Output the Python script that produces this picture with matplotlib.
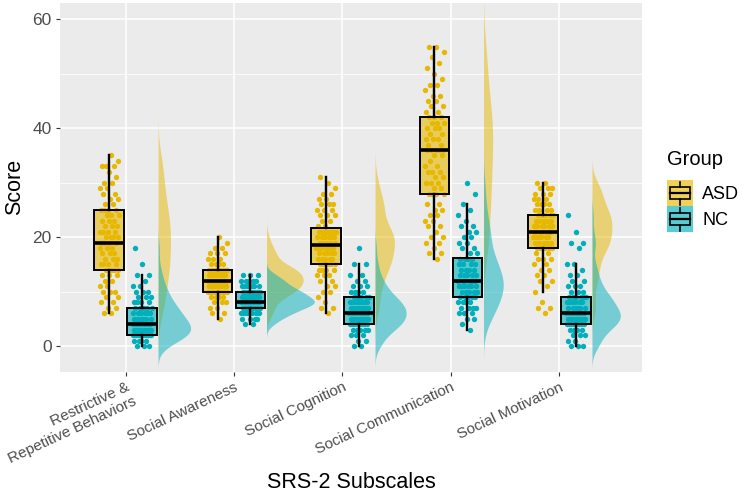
import numpy as np
import matplotlib.pyplot as plt
from matplotlib.colors import to_rgba
from matplotlib.patches import Rectangle, Patch
from matplotlib.lines import Line2D
from matplotlib.legend_handler import HandlerBase

plt.rcParams['font.family'] = ['Liberation Sans', 'DejaVu Sans']

subscales = ["Restrictive &\nRepetitive Behaviors", "Social Awareness", "Social Cognition",
             "Social Communication", "Social Motivation"]
groups = ["ASD", "NC"]
colors = {"ASD": "#E7B800", "NC": "#00AFBB"}

# score values and how many participants sit on each dot row
rrb_asd_scores = list(range(6, 36))
rrb_asd_counts = [2, 2, 2, 2, 3, 2, 2, 3, 4, 4, 3, 3, 3, 4, 4, 4, 3, 3, 3, 4, 2, 2, 2, 2, 2, 1, 1, 3, 1, 1]
rrb_nc_scores = list(range(0, 14)) + [15, 18]
rrb_nc_counts = [3, 4, 12, 8, 10, 7, 6, 6, 4, 3, 3, 2, 1, 2, 1, 1]

sa_asd_scores = list(range(5, 21))
sa_asd_counts = [1, 2, 2, 3, 4, 10, 9, 12, 9, 11, 4, 3, 3, 2, 1, 1]
sa_nc_scores = list(range(4, 14))
sa_nc_counts = [2, 4, 7, 10, 15, 11, 10, 6, 5, 3]

sc_asd_scores = list(range(6, 32))
sc_asd_counts = [1, 2, 1, 1, 2, 2, 2, 3, 4, 5, 5, 5, 6, 5, 6, 8, 2, 2, 3, 3, 3, 2, 2, 1, 1, 1]
sc_nc_scores = list(range(0, 14)) + [15, 18]
sc_nc_counts = [2, 2, 3, 5, 8, 8, 9, 8, 8, 5, 4, 3, 2, 2, 2, 1]

scom_asd_scores = list(range(16, 27)) + list(range(28, 56))
scom_asd_counts = [1, 2, 1, 2, 2, 1, 2, 2, 2, 2, 2,
                   4, 2, 3, 2, 3, 2, 1, 2, 5, 2, 3, 2, 3, 3, 3, 2, 2, 2, 2, 1, 2, 1, 1, 1, 1, 1, 1, 2]
scom_nc_scores = list(range(3, 27)) + [28, 30]
scom_nc_counts = [1, 1, 2, 3, 4, 4, 5, 5, 6, 6, 5, 4, 4, 4, 2, 2, 2, 2, 2, 2, 1, 1, 1, 1, 1, 1]

sm_asd_scores = [6, 7, 8] + list(range(10, 31))
sm_asd_counts = [1, 2, 1, 1, 1, 2, 2, 2, 2, 3, 2, 6, 5, 6, 5, 6, 6, 6, 4, 4, 3, 3, 3, 2]
sm_nc_scores = list(range(0, 16)) + [18, 19, 21, 24]
sm_nc_counts = [3, 2, 3, 4, 8, 8, 9, 6, 6, 6, 3, 3, 2, 2, 1, 2, 1, 2, 1, 1]

data = [
    {"ASD": np.repeat(rrb_asd_scores, rrb_asd_counts), "NC": np.repeat(rrb_nc_scores, rrb_nc_counts)},
    {"ASD": np.repeat(sa_asd_scores, sa_asd_counts), "NC": np.repeat(sa_nc_scores, sa_nc_counts)},
    {"ASD": np.repeat(sc_asd_scores, sc_asd_counts), "NC": np.repeat(sc_nc_scores, sc_nc_counts)},
    {"ASD": np.repeat(scom_asd_scores, scom_asd_counts), "NC": np.repeat(scom_nc_scores, scom_nc_counts)},
    {"ASD": np.repeat(sm_asd_scores, sm_asd_counts), "NC": np.repeat(sm_nc_scores, sm_nc_counts)},
]


def kde(v):
    v = np.asarray(v, float)
    n = len(v)
    q75, q25 = np.percentile(v, [75, 25])
    bw = 0.9 * min(v.std(ddof=1), (q75 - q25) / 1.34) * n ** -0.2
    grid = np.linspace(v.min() - 3 * bw, v.max() + 3 * bw, 300)
    dens = np.exp(-0.5 * ((grid[:, None] - v[None, :]) / bw) ** 2).sum(1)
    return grid, dens / (n * bw * np.sqrt(2 * np.pi))


fig = plt.figure(figsize=(7.44, 4.96), dpi=100)
ax = fig.add_axes([60 / 744, 1 - 371.7 / 496, 582 / 744, 369 / 496])
ax.set_facecolor("#EBEBEB")
for s in ax.spines.values():
    s.set_visible(False)

offset = 0.152
box_w = 0.274
jit = 0.09
violin_base = 0.30

densities = [{g: kde(d[g]) for g in groups} for d in data]
dmax = max(dens.max() for dd in densities for _, dens in dd.values())
vscale = 0.44 / dmax

for i, d in enumerate(data):
    x0 = i + 1
    for g in groups:
        pos = x0 + (-offset if g == "ASD" else offset)
        vals = d[g]
        n = len(vals)
        jx = (((np.arange(n) + 1) * 0.6180339887) % 1 - 0.5) * 2 * jit
        ax.scatter(pos + jx, vals, s=15, color=colors[g], lw=0, zorder=3)
        ax.boxplot([vals], positions=[pos], widths=box_w, patch_artist=True,
                   showfliers=False, zorder=4,
                   boxprops=dict(facecolor=to_rgba(colors[g], 0.6), edgecolor="black", linewidth=1.4),
                   medianprops=dict(color="black", linewidth=2.6),
                   whiskerprops=dict(color="black", linewidth=1.7),
                   capprops=dict(linewidth=0))
        grid, dens = densities[i][g]
        ax.fill_betweenx(grid, x0 + violin_base, x0 + violin_base + dens * vscale,
                         color=colors[g], alpha=0.5, lw=0, zorder=2)

ax.set_xlim(0.396, 5.761)
ax.set_ylim(-4.72, 63.05)
ax.set_xticks(range(1, 6))
ax.set_xticklabels(subscales, rotation=25, ha="right", va="top", rotation_mode="anchor",
                   multialignment="right")
ax.set_yticks([0, 20, 40, 60])
ax.set_yticks([10, 30, 50], minor=True)
ax.tick_params(axis="both", which="major", colors="#333333", labelcolor="#4D4D4D",
               length=3, width=0.8, pad=3)
ax.tick_params(axis="x", labelsize=11)
ax.tick_params(axis="y", labelsize=12.5)
ax.tick_params(axis="y", which="minor", length=0)
ax.grid(which="major", color="white", lw=1.1)
ax.grid(which="minor", axis="y", color="white", lw=0.55)
ax.set_axisbelow(True)

fig.text(351 / 744, 1 - 483 / 496, "SRS-2 Subscales", ha="center", va="center", fontsize=15.5)
fig.text(15 / 744, 1 - 187 / 496, "Score", ha="center", va="center", rotation=90, fontsize=15.5)


class BoxKey(HandlerBase):
    def create_artists(self, legend, orig_handle, xdescent, ydescent, width, height, fontsize, trans):
        x, y = -xdescent, -ydescent
        c = orig_handle.get_facecolor()
        bg = Rectangle((x, y), width, height, facecolor=c, edgecolor="none", transform=trans)
        box = Rectangle((x + 0.12 * width, y + 0.27 * height), 0.76 * width, 0.46 * height,
                        facecolor="none", edgecolor="black", lw=1.2, transform=trans)
        med = Line2D([x + 0.12 * width, x + 0.88 * width], [y + 0.5 * height] * 2,
                     color="black", lw=1.6, transform=trans)
        w1 = Line2D([x + 0.5 * width] * 2, [y + 0.06 * height, y + 0.27 * height],
                    color="black", lw=1.2, transform=trans)
        w2 = Line2D([x + 0.5 * width] * 2, [y + 0.73 * height, y + 0.94 * height],
                    color="black", lw=1.2, transform=trans)
        return [bg, box, med, w1, w2]


handles = [Patch(facecolor=to_rgba(colors[g], 0.65)) for g in groups]
leg = fig.legend(handles, groups, handler_map={Patch: BoxKey()}, title="Group",
                 loc="upper left", bbox_to_anchor=(667 / 744, 1 - 150 / 496),
                 frameon=False, fontsize=13, title_fontsize=14.5, handlelength=1.45,
                 handleheight=1.85, labelspacing=0.0, handletextpad=0.5,
                 borderpad=0, borderaxespad=0, alignment="left")
leg._legend_box.sep = 8

fig.savefig("out.png", dpi=100)
